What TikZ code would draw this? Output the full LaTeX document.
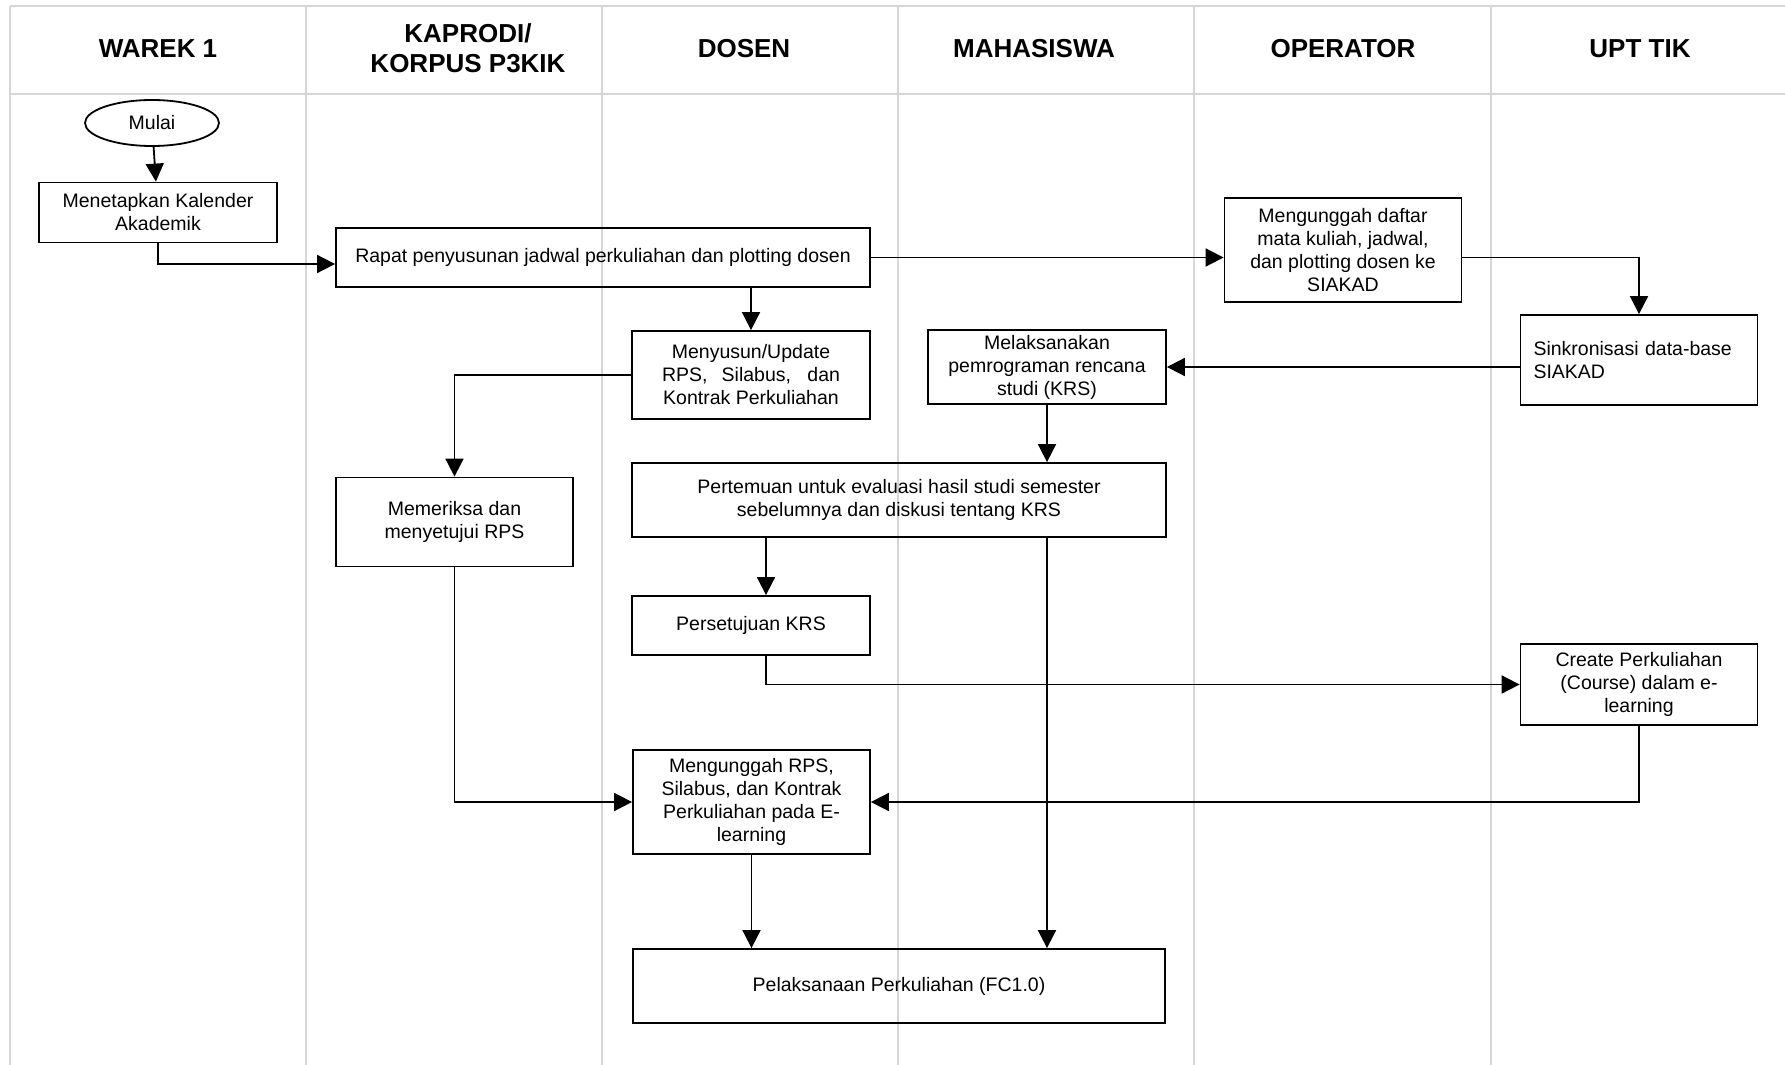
\documentclass[tikz,border=0pt]{standalone}
\usepackage{fontspec}
\setmainfont{Liberation Sans}
\usetikzlibrary{arrows.meta,shapes.geometric}
\begin{document}
\begin{tikzpicture}[x=0.5pt,y=-0.5pt,
  box/.style={draw, line width=0.9pt, inner sep=0pt, align=center, font=\fontsize{9.75}{11.5}\selectfont},
  conn/.style={line width=0.9pt, -{Triangle[length=9pt,width=9pt]}},
  lane/.style={draw=black!16, line width=0.6pt},
  head/.style={font=\fontsize{13}{15}\selectfont\bfseries, align=center}]
\useasboundingbox (0,0) rectangle (1785,1065);
% swimlanes
\draw[lane] (10,6) -- (1785,6);
\draw[lane] (10,94) -- (1785,94);
\foreach \x in {10,306,602,898,1194,1491} \draw[lane] (\x,6) -- (\x,1065);
% headers
\node[head] (h1) at (158,49) {WAREK 1};
\node[head] (h2) at (468,48) {KAPRODI/\\KORPUS P3KIK};
\node[head] (h3) at (744,49) {DOSEN};
\node[head] (h4) at (1034,49) {MAHASISWA};
\node[head] (h5) at (1343,49) {OPERATOR};
\node[head] (h6) at (1640,49) {UPT TIK};
% nodes
\node[box, ellipse, minimum width=67pt, minimum height=23pt] (mulai) at (152,123) {Mulai};
\node[box, minimum width=119pt, minimum height=30pt] (kal) at (158,212.5) {Menetapkan Kalender\\Akademik};
\node[box, minimum width=267pt, minimum height=29.5pt] (rapat) at (603,257.5) {Rapat penyusunan jadwal perkuliahan dan plotting dosen};
\node[box, minimum width=118.5pt, minimum height=52pt] (daftar) at (1343,250) {Mengunggah daftar\\mata kuliah, jadwal,\\dan plotting dosen ke\\SIAKAD};
\node[box, text width=105.5pt, inner xsep=6.5pt, align=left, minimum height=45pt] (sink) at (1639,360) {Sinkronisasi data-base\\SIAKAD};
\node[box, minimum width=119pt, minimum height=37pt] (melak) at (1047,367) {Melaksanakan\\pemrograman rencana\\studi (KRS)};
\node[box, minimum width=119pt, minimum height=44pt] (susun) at (751,375) {Menyusun/Update\\\makebox[89pt][s]{RPS, Silabus, dan}\\Kontrak Perkuliahan};
\node[box, minimum width=118.5pt, minimum height=44.5pt] (periksa) at (454.5,522) {Memeriksa dan\\menyetujui RPS};
\node[box, minimum width=267pt, minimum height=37pt] (temu) at (899,500) {Pertemuan untuk evaluasi hasil studi semester\\sebelumnya dan diskusi tentang KRS};
\node[box, minimum width=119pt, minimum height=29.5pt] (setuju) at (751,625.5) {Persetujuan KRS};
\node[box, minimum width=118.5pt, minimum height=40.5pt] (create) at (1639,684.5) {Create Perkuliahan\\(Course) dalam e-\\learning};
\node[box, minimum width=118.5pt, minimum height=52pt] (unggah) at (751.5,802) {Mengunggah RPS,\\Silabus, dan Kontrak\\Perkuliahan pada E-\\learning};
\node[box, minimum width=266pt, minimum height=37pt] (pelaks) at (899,986) {Pelaksanaan Perkuliahan (FC1.0)};
% connectors
\draw[conn] (mulai) -- (kal);
\draw[conn] (kal.south) |- ([yshift=-3.25pt]rapat.west);
\draw[conn] (rapat.east) -- (daftar.west |- rapat.east);
\draw[conn] (daftar.east |- rapat.east) -| (sink.north);
\draw[conn] (sink.west |- melak.east) -- (melak.east);
\draw[conn] (rapat.south -| susun.north) -- (susun.north);
\draw[conn] (susun.west) -| (periksa.north);
\draw[conn] (melak.south) -- (melak.south |- temu.north);
\draw[conn] ([xshift=7.5pt]setuju.north |- temu.south) -- ([xshift=7.5pt]setuju.north);
\draw[conn] ([xshift=7.5pt]setuju.south) |- (create.west);
\draw[conn] (create.south) |- (unggah.east);
\draw[conn] (periksa.south) |- (unggah.west);
\draw[conn] (melak.south |- temu.south) -- (melak.south |- pelaks.north);
\draw[conn] (unggah.south) -- (unggah.south |- pelaks.north);
\end{tikzpicture}
\end{document}
